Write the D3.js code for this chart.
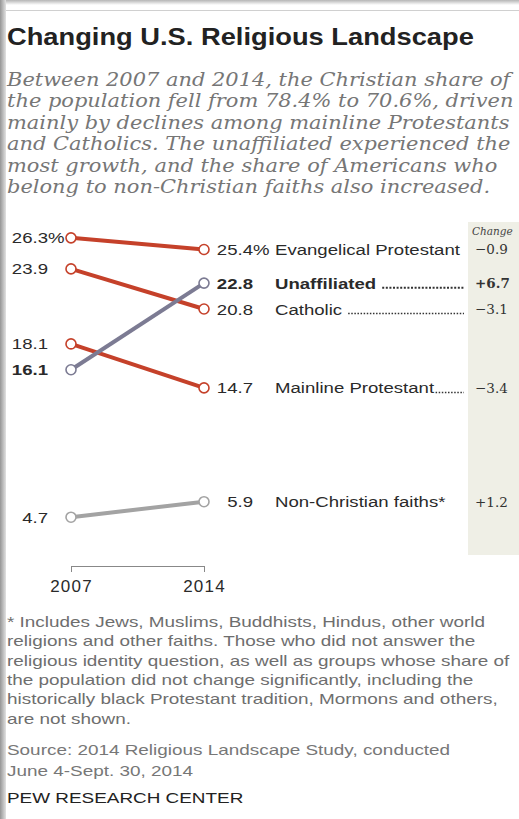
<!DOCTYPE html>
<html>
<head>
<meta charset="utf-8">
<script src="https://cdn.jsdelivr.net/npm/d3@7"></script>
<style>
  html, body { margin: 0; padding: 0; background: #fff; }
  svg { display: block; }
</style>
</head>
<body>
<svg id="chart" width="519" height="819"></svg>
<script>
// ---------- data ----------
const years = ["2007", "2014"];
const categories = ["Evangelical Protestant", "Unaffiliated", "Catholic", "Mainline Protestant", "Non-Christian faiths*"];
const values2007 = [26.3, 16.1, 23.9, 18.1, 4.7];
const values2014 = [25.4, 22.8, 20.8, 14.7, 5.9];
const boldSeries = [false, true, false, false, false];
const leaderSeries = [false, true, true, true, false];
const seriesColors = ["#c5412a", "#7c7b93", "#c5412a", "#c5412a", "#a3a3a3"];

const titleText = "Changing U.S. Religious Landscape";
const subtitleLines = [
  "Between 2007 and 2014, the Christian share of",
  "the population fell from 78.4% to 70.6%, driven",
  "mainly by declines among mainline Protestants",
  "and Catholics. The unaffiliated experienced the",
  "most growth, and the share of Americans who",
  "belong to non-Christian faiths also increased."
];
const noteLines = [
  "* Includes Jews, Muslims, Buddhists, Hindus, other world",
  "religions and other faiths. Those who did not answer the",
  "religious identity question, as well as groups whose share of",
  "the population did not change significantly, including the",
  "historically black Protestant tradition, Mormons and others,",
  "are not shown."
];
const sourceLines = ["Source: 2014 Religious Landscape Study, conducted", "June 4-Sept. 30, 2014"];
const creditText = "PEW RESEARCH CENTER";

// ---------- setup ----------
const svg = d3.select("#chart");
const SANS = "'Liberation Sans', Arial, sans-serif";
const SERIF = "'DejaVu Serif', Georgia, serif";

// frame decoration
const defs = svg.append("defs");
const lg = defs.append("linearGradient").attr("id", "leftEdge").attr("x1", 0).attr("x2", 1);
lg.append("stop").attr("offset", 0).attr("stop-color", "#959595");
lg.append("stop").attr("offset", 1).attr("stop-color", "#e2e2e2");
const tg = defs.append("linearGradient").attr("id", "topEdge").attr("x1", 0).attr("x2", 0).attr("y1", 0).attr("y2", 1);
tg.append("stop").attr("offset", 0).attr("stop-color", "#b5b5b5");
tg.append("stop").attr("offset", 1).attr("stop-color", "#ffffff");
svg.append("rect").attr("x", 0).attr("y", 0).attr("width", 519).attr("height", 5).attr("fill", "url(#topEdge)");
svg.append("rect").attr("x", 0).attr("y", 0).attr("width", 6).attr("height", 819).attr("fill", "url(#leftEdge)");
svg.append("line").attr("x1", 6).attr("x2", 519).attr("y1", 10.5).attr("y2", 10.5)
  .attr("stroke", "#d0d0d0").attr("stroke-width", 1);

// helper: horizontally fitted text (stretch a block to a target width measured on one line)
function measure(text, font, size, weight, style) {
  const t = svg.append("text").attr("font-family", font).attr("font-size", size)
    .attr("font-weight", weight || "normal").attr("font-style", style || "normal").text(text);
  const w = t.node().getComputedTextLength();
  t.remove();
  return w;
}
function textBlock(lines, x, y0, lh, font, size, color, weight, style, sx) {
  const g = svg.append("g");
  lines.forEach((ln, i) => {
    g.append("g").attr("transform", `translate(${x},${y0 + i * lh}) scale(${sx},1)`)
      .append("text").attr("x", 0).attr("y", 0)
      .attr("font-family", font).attr("font-size", size).attr("fill", color)
      .attr("font-weight", weight || "normal").attr("font-style", style || "normal")
      .text(ln);
  });
  return g;
}

// title
const titleSize = 24;
const titleSx = 467 / measure(titleText, SANS, titleSize, "bold");
textBlock([titleText], 7, 45, 0, SANS, titleSize, "#222", "bold", "normal", titleSx);

// subtitle
const subSize = 18;
const subSx = 503 / measure(subtitleLines[2], SERIF, subSize, "normal", "italic");
textBlock(subtitleLines, 7, 86, 21.4, SERIF, subSize, "#767676", "normal", "italic", subSx);

// ---------- chart ----------
const x = d3.scalePoint().domain(years).range([71, 204]);
const y = d3.scaleLinear().domain([0, 30]).range([578, 190]);

const labelSize = 15.5;
const labelSx = 185 / measure("Evangelical Protestant", SANS, labelSize);

// change column background
svg.append("rect").attr("x", 468).attr("y", 222).attr("width", 51).attr("height", 333).attr("fill", "#efefe6");
svg.append("g").attr("transform", `translate(472,235)`)
  .append("text").attr("font-family", SERIF).attr("font-style", "italic").attr("font-size", 10.5)
  .attr("fill", "#444").text("Change");

const series = categories.map((c, i) => ({
  name: c, v0: values2007[i], v1: values2014[i], bold: boldSeries[i],
  leader: leaderSeries[i], color: seriesColors[i], change: values2014[i] - values2007[i]
}));

const line = d3.line().x(d => x(d[0])).y(d => y(d[1]));

// draw lines: grey ones first, then red, unaffiliated on top
const order = [4, 3, 2, 0, 1];
order.forEach(i => {
  const s = series[i];
  svg.append("path")
    .attr("d", line([[years[0], s.v0], [years[1], s.v1]]))
    .attr("stroke", s.color).attr("stroke-width", 4).attr("fill", "none");
});
order.forEach(i => {
  const s = series[i];
  [[years[0], s.v0], [years[1], s.v1]].forEach(p => {
    svg.append("circle").attr("cx", x(p[0])).attr("cy", y(p[1])).attr("r", 5)
      .attr("fill", "#fff").attr("stroke", s.color).attr("stroke-width", 1.6);
  });
});

function numLabel(val, xr, yy, bold, withPct) {
  const g = svg.append("g").attr("transform", `translate(${xr},${yy}) scale(${labelSx},1)`);
  g.append("text").attr("text-anchor", "end").attr("dy", "0.36em")
    .attr("font-family", SANS).attr("font-size", labelSize)
    .attr("font-weight", bold ? "bold" : "normal").attr("fill", "#2a2a2a")
    .text(d3.format(".1f")(val));
  if (withPct) {
    g.append("text").attr("text-anchor", "start").attr("dy", "0.36em")
      .attr("font-family", SANS).attr("font-size", labelSize).attr("fill", "#2a2a2a").text("%");
  }
}

series.forEach((s, i) => {
  // left values (2007)
  numLabel(s.v0, 48, y(s.v0), s.bold, i === 0);
  // right values (2014)
  numLabel(s.v1, 253, y(s.v1), s.bold, i === 0);
  // category names
  const g = svg.append("g").attr("transform", `translate(275,${y(s.v1)}) scale(${labelSx},1)`);
  const t = g.append("text").attr("dy", "0.36em")
    .attr("font-family", SANS).attr("font-size", labelSize)
    .attr("font-weight", s.bold ? "bold" : "normal").attr("fill", "#2a2a2a").text(s.name);
  if (s.leader) {
    const w = t.node().getComputedTextLength() * labelSx;
    const start = 275 + w + (s.name === "Mainline Protestant" ? 1.5 : 6);
    svg.append("line").attr("x1", start).attr("x2", 464)
      .attr("y1", y(s.v1) + 4.6).attr("y2", y(s.v1) + 4.6)
      .attr("stroke", "#333").attr("stroke-width", s.bold ? 2 : 1.5)
      .attr("stroke-dasharray", s.bold ? "2,1.6" : "1.5,1.6");
  }
  // change values
  svg.append("text").attr("x", 475).attr("y", y(s.v1)).attr("dy", "0.36em")
    .attr("font-family", SERIF).attr("font-size", 13.5)
    .attr("font-weight", s.bold ? "bold" : "normal").attr("fill", "#333")
    .text(d3.format("+.1f")(s.change).replace("-", "\u2013"));
});

// x axis (bracket)
const axis = d3.axisBottom(x).tickSize(6).tickSizeOuter(6).tickPadding(8);
const ax = svg.append("g").attr("transform", "translate(0,566)").call(axis);
ax.select(".domain").attr("stroke", "#888");
ax.selectAll(".tick line").attr("stroke", "#888");
ax.selectAll(".tick text").attr("font-family", SANS).attr("font-size", 17).attr("fill", "#2a2a2a")
  .attr("text-anchor", "middle").attr("letter-spacing", 1.2);

// ---------- footnotes ----------
const noteSize = 14;
const noteSx = 503 / measure(noteLines[2], SANS, noteSize);
textBlock(noteLines, 7, 627, 19.3, SANS, noteSize, "#6e6e6e", "normal", "normal", noteSx);
textBlock(sourceLines, 7, 755, 20.5, SANS, noteSize, "#777", "normal", "normal", noteSx);
textBlock([creditText], 7, 803, 0, SANS, noteSize, "#222", "normal", "normal", noteSx);
</script>
</body>
</html>
